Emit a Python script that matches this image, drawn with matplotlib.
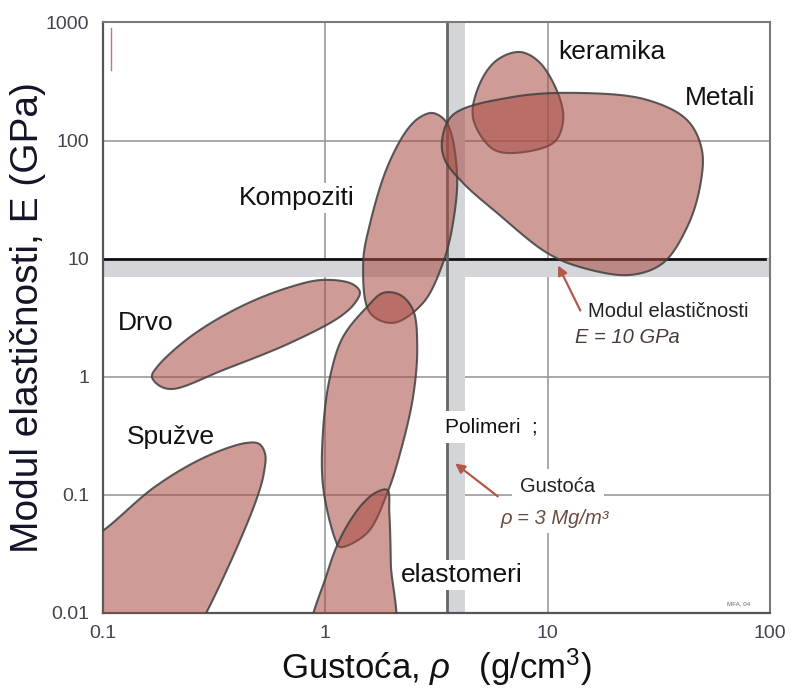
import numpy as np
import matplotlib
matplotlib.use('Agg')
import matplotlib.pyplot as plt

plt.rcParams['font.family'] = ['Liberation Sans', 'DejaVu Sans']
plt.rcParams['mathtext.fontset'] = 'custom'
plt.rcParams['mathtext.rm'] = 'Liberation Sans'
plt.rcParams['mathtext.it'] = 'Liberation Sans:italic'

# outline points of each material family (density in g/cm3, modulus in GPa)
spuzve_rho = [0.440, 0.504, 0.536, 0.530, 0.498, 0.405, 0.288, 0.222, 0.0875, 0.064, 0.0788, 0.101, 0.171, 0.288]
spuzve_E = [0.275, 0.270, 0.222, 0.156, 0.100, 0.0377, 0.0096, 0.004, 0.0022, 0.0129, 0.0377, 0.0505, 0.117, 0.209]

drvo_rho = [0.166, 0.180, 0.207, 0.347, 0.693, 1.16, 1.36, 1.43, 1.32, 0.977, 0.693, 0.413, 0.246, 0.175]
drvo_E = [1.00, 0.836, 0.789, 1.14, 1.93, 3.21, 4.22, 5.22, 6.11, 6.61, 5.75, 3.90, 2.17, 1.21]

kompoziti_rho = [3.05, 3.52, 3.91, 3.75, 3.38, 2.75, 2.02, 1.59, 1.48, 1.59, 1.90, 2.33, 2.67]
kompoziti_E = [171, 141, 53.2, 20.0, 9.18, 4.22, 2.86, 3.47, 9.18, 20.0, 59.7, 123, 158]

polimeri_rho = [2.17, 2.48, 2.59, 2.48, 2.17, 1.90, 1.54, 1.16, 1.11, 0.977, 0.977, 1.05, 1.20, 1.54, 1.82]
polimeri_E = [4.93, 3.68, 1.79, 0.675, 0.226, 0.104, 0.0475, 0.0362, 0.0415, 0.117, 0.355, 1.00, 2.17, 3.90, 5.13]

elastomeri_rho = [1.90, 1.94, 1.97, 1.97, 0.881, 1.02, 1.20, 1.48, 1.71]
elastomeri_E = [0.110, 0.0703, 0.0265, 0.0059, 0.0059, 0.0218, 0.0475, 0.0853, 0.106]

keramika_rho = [7.52, 9.25, 11.4, 11.7, 10.6, 6.56, 5.51, 4.61, 4.97, 5.92]
keramika_E = [562, 454, 221, 141, 95.5, 78.5, 88.3, 158, 308, 481]

metali_rho = [3.35, 3.75, 6.98, 14.0, 28.0, 42.4, 49.4, 48.4, 42.4, 33.0, 23.5, 14.0, 9.93, 5.92, 4.16, 3.45]
metali_E = [101, 165, 234, 253, 221, 149, 83.2, 40.5, 18.5, 9.18, 7.28, 8.49, 11.2, 24.4, 43.8, 68.5]

x_ticks = [0.1, 1, 10, 100]
x_labels = ['0.1', '1', '10', '100']
y_ticks = [0.01, 0.1, 1, 10, 100, 1000]
y_labels = ['0.01', '0.1', '1', '10', '100', '1000']

E_ref = 10      # GPa
rho_ref = 3.52  # drawn position of the density line
rho_band = 4.25
E_band = 7.0


def closed_curve(xs, ys, n=30):
    # closed centripetal Catmull-Rom curve through the outline points (log space,
    # x scaled so that distances follow the on-screen decade sizes)
    sx = 222.3 / 118.1
    pts = np.column_stack([np.log10(xs) * sx, np.log10(ys)])
    m = len(pts)
    segs = []
    for i in range(m):
        p0, p1, p2, p3 = pts[i - 1], pts[i], pts[(i + 1) % m], pts[(i + 2) % m]
        t0 = 0.0
        t1 = t0 + np.linalg.norm(p1 - p0) ** 0.5
        t2 = t1 + np.linalg.norm(p2 - p1) ** 0.5
        t3 = t2 + np.linalg.norm(p3 - p2) ** 0.5
        t = np.linspace(t1, t2, n, endpoint=False)[:, None]
        a1 = (t1 - t) / (t1 - t0) * p0 + (t - t0) / (t1 - t0) * p1
        a2 = (t2 - t) / (t2 - t1) * p1 + (t - t1) / (t2 - t1) * p2
        a3 = (t3 - t) / (t3 - t2) * p2 + (t - t2) / (t3 - t2) * p3
        b1 = (t2 - t) / (t2 - t0) * a1 + (t - t0) / (t2 - t0) * a2
        b2 = (t3 - t) / (t3 - t1) * a2 + (t - t1) / (t3 - t1) * a3
        segs.append((t2 - t) / (t2 - t1) * b1 + (t - t1) / (t2 - t1) * b2)
    out = np.vstack(segs)
    return 10 ** (out[:, 0] / sx), 10 ** out[:, 1]


fig = plt.figure(figsize=(7.93, 6.91), dpi=100)
ax = fig.add_axes([0.1299, 0.1129, 0.8411, 0.8546])
ax.set_xscale('log')
ax.set_yscale('log')
ax.set_xlim(0.1, 100)
ax.set_ylim(0.01, 1000)

ax.set_xticks(x_ticks)
ax.set_xticklabels(x_labels)
ax.set_yticks(y_ticks)
ax.set_yticklabels(y_labels)
ax.minorticks_off()
ax.tick_params(length=0, labelsize=14, labelcolor='#444450')
ax.tick_params(axis='x', pad=9)
ax.tick_params(axis='y', pad=10)
ax.grid(True, color='#999999', lw=1.2)
ax.set_axisbelow(True)
for s in ['left', 'bottom']:
    ax.spines[s].set_color('#555555')
    ax.spines[s].set_linewidth(1.6)
for s in ['top', 'right']:
    ax.spines[s].set_color('#7a7a7a')
    ax.spines[s].set_linewidth(1.5)

# reference bands and lines
ax.axhspan(E_band, E_ref, color='#d3d5d8', zorder=1, lw=0)
ax.axvspan(rho_ref, rho_band, color='#d3d5d8', zorder=1, lw=0)
ax.plot([0.1, 95], [E_ref, E_ref], color='#111111', lw=2, zorder=2)
ax.axvline(rho_ref, color='#666666', lw=2, zorder=2)
ax.plot([0.1086, 0.1086], [396, 898], color='#c07a72', lw=1, zorder=2)

fill_c = (0.66, 0.29, 0.26, 0.55)
edge_c = (0.25, 0.25, 0.25, 0.85)
blobs = [(spuzve_rho, spuzve_E), (drvo_rho, drvo_E), (kompoziti_rho, kompoziti_E),
         (polimeri_rho, polimeri_E), (elastomeri_rho, elastomeri_E),
         (keramika_rho, keramika_E), (metali_rho, metali_E)]
for bx, by in blobs:
    cx, cy = closed_curve(bx, by)
    ax.fill(cx, cy, facecolor=fill_c, edgecolor=edge_c, lw=1.5, zorder=3)

white = dict(facecolor='white', edgecolor='none', pad=2)
lab = dict(fontsize=19, color='#111111', ha='center', va='center', zorder=6)
ax.text(0.746, 32.7, 'Kompoziti', bbox=white, **lab)
ax.text(19.5, 562, 'keramika', **lab)
ax.text(59.7, 229, 'Metali', **lab)
ax.text(0.156, 2.86, 'Drvo', bbox=white, **lab)
ax.text(0.202, 0.309, 'Spužve', **lab)
ax.text(4.12, 0.021, 'elastomeri', bbox=white, **lab)
ax.text(5.6, 0.376, 'Polimeri  ;', fontsize=15, color='#111111', ha='center', va='center',
        zorder=6, bbox=dict(facecolor='white', edgecolor='none', pad=5))

ax.text(15.2, 3.54, 'Modul elastičnosti', fontsize=14.5, color='#222222', ha='left', va='center', zorder=6)
ax.text(13.3, 2.13, 'E = 10 GPa', fontsize=14.5, style='italic', color='#4a3b35', ha='left', va='center', zorder=6)
ax.text(11.1, 0.117, 'Gustoća', fontsize=14.5, color='#222222', ha='center', va='center', zorder=6,
        bbox=dict(facecolor='white', edgecolor='none', pad=6))
ax.text(10.8, 0.0637, 'ρ = 3 Mg/m³', fontsize=14.5, style='italic', color='#6b4a40', ha='center', va='center',
        zorder=6, bbox=dict(facecolor='white', edgecolor='none', pad=4))
ax.text(72, 0.0119, 'MFA, 04', fontsize=4.5, color='#666666', ha='center', va='center', zorder=6)

arrow = dict(arrowstyle='-|>', color='#b5584c', lw=1.6, mutation_scale=14)
ax.annotate('', xy=(11.0, 9.2), xytext=(14.2, 3.47), arrowprops=arrow, zorder=7)
ax.annotate('', xy=(3.75, 0.191), xytext=(6.1, 0.094), arrowprops=arrow, zorder=7)

ax.set_xlabel('Gustoća, $\\mathit{\\rho}$   (g/cm$^3$)', fontsize=25, color='#111111', labelpad=3)
ax.set_ylabel('Modul elastičnosti, E (GPa)', fontsize=28, color='#141428', labelpad=0)

plt.savefig('out.png', dpi=100)
